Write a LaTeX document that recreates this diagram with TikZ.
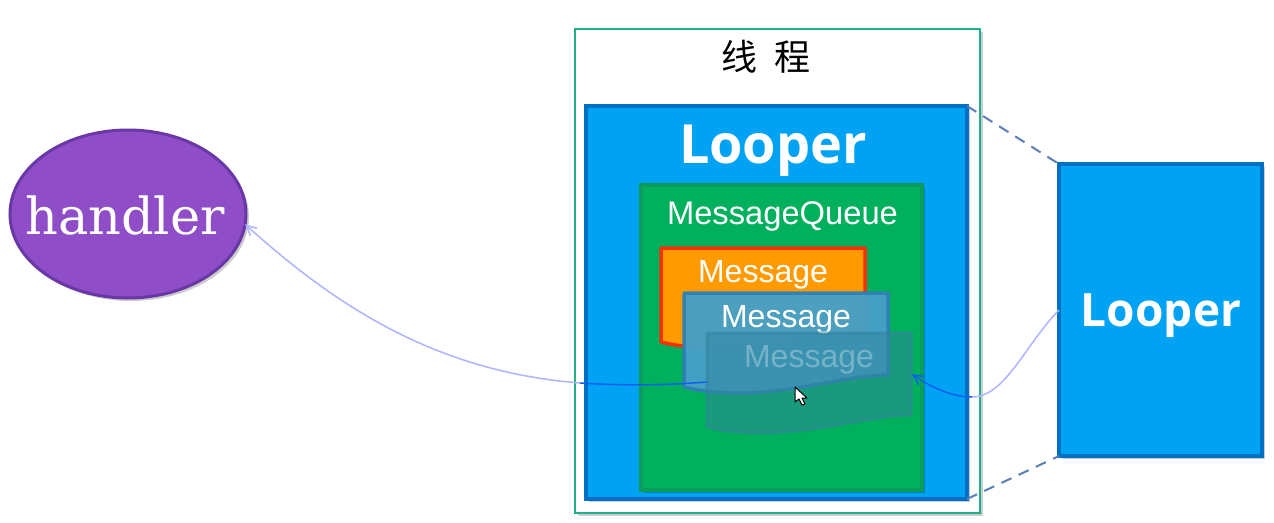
\documentclass[tikz,border=0pt]{standalone}
\usepackage{fontspec}
\setmainfont{Liberation Sans}
\newfontfamily\boldfont[BoldFont={Open Sans Bold}]{Open Sans}
\newfontfamily\serifish{DejaVu Serif}
\newfontfamily\cjk{Noto Sans CJK SC}
\usetikzlibrary{shapes.geometric,shadows,arrows.meta}
\definecolor{threadgreen}{HTML}{1FB08A}
\definecolor{loopblue}{HTML}{00A2F3}
\definecolor{loopedge}{HTML}{0070C4}
\definecolor{queuegreen}{HTML}{00B05C}
\definecolor{queueedge}{HTML}{0C9C5A}
\definecolor{handlerfill}{HTML}{8F4DC8}
\definecolor{handleredge}{HTML}{6A38A6}
\definecolor{msgorange}{HTML}{FF9A00}
\definecolor{msgred}{HTML}{F5300A}
\definecolor{msgblue}{HTML}{46A0C8}
\definecolor{msgblueedge}{HTML}{2F80B4}
\definecolor{msgteal}{HTML}{32869F}
\definecolor{linklight}{HTML}{AEB4FF}
\definecolor{linkdark}{HTML}{1060F0}
\definecolor{dashblue}{HTML}{5A7FB4}
\tikzset{
  softshadow/.style={drop shadow={shadow xshift=3pt,shadow yshift=-3pt,opacity=.2,fill=black}},
  box/.style={draw,rectangle,outer sep=0pt,inner sep=0pt},
  looperbox/.style={box,fill=loopblue,draw=loopedge,line width=4pt,softshadow},
  linkdashed/.style={draw=dashblue,line width=2pt,dash pattern=on 11pt off 8pt},
  label/.style={text=white,inner sep=0pt,anchor=center}
}
\begin{document}
\begin{tikzpicture}[x=1pt,y=-1pt]
    \useasboundingbox (0,0) rectangle (1274,522);
    \fill[white] (0,0) rectangle (1274,522);
    % thread frame and the looper inside it
    \node[box,fill=white,draw=threadgreen,line width=2pt,softshadow,minimum width=405pt,minimum height=484pt] (thread) at (777,270.5) {};
    \node[inner sep=0pt] (threadlabel) at (766,57) {\fontsize{36}{36}\cjk 线\hspace{0.45em}程};
    \node[looperbox,minimum width=381pt,minimum height=393pt] (looper) at (776.5,302.5) {};
    \node[label] (looperlabel) at (773,151) {\fontsize{54}{54}\boldfont\bfseries Looper};
    \node[box,fill=queuegreen,draw=queueedge,line width=3.5pt,softshadow,minimum width=281pt,minimum height=305pt] (queue) at (781.5,337.5) {};
    \node[label] (queuelabel) at (782.5,216) {\fontsize{32.7}{33}\selectfont MessageQueue};
    % stacked messages
    \foreach \name/\px/\py/\fillc/\edgec/\op/\wid/\txt in {
        one/661/248/msgorange/msgred/1/3.5/1,
        two/684/293/msgblue/msgblueedge/.96/3.5/1,
        three/707/333/msgteal/msgteal/.5/3.5/.3
    } {
        \begin{scope}[shift={(\px,\py)}]
            \draw[fill=\fillc,draw=\edgec,fill opacity=\op,draw opacity=\op,line width=\wid pt,line join=round]
                (0,0) -- (204,0) -- (204,82) .. controls (165,82) and (110,100) .. (56,100)
                .. controls (35,100) and (15,98) .. (0,94) -- cycle;
            \node[label,text opacity=\txt] (\name) at (102,26.5) {\fontsize{32}{32}\selectfont Message};
        \end{scope}
    }
    % right looper and handler
    \node[looperbox,minimum width=203pt,minimum height=292pt] (outerlooper) at (1160.5,310) {};
    \node[label] (outerlabel) at (1161,316) {\fontsize{46}{46}\boldfont\bfseries Looper};
    \node[draw=handleredge,fill=handlerfill,ellipse,line width=3pt,outer sep=0pt,inner sep=0pt,softshadow,minimum width=236pt,minimum height=168pt] (handler) at (128,214) {};
    \node[label] (handlerlabel) at (125,215) {\fontsize{51}{51}\serifish handler};
    % links
    \draw[linkdashed] (looper.north east) -- (outerlooper.north west);
    \draw[linkdashed] (looper.south east) -- (outerlooper.south west);
    \coordinate (msgstart) at (707,382);
    \coordinate (framein) at (580,383);
    \coordinate (arrowtip) at (912,374);
    \coordinate (frameout) at (972,397);
    \draw[linkdark,line width=1.5pt] (msgstart) .. controls (670,385) and (625,386) .. (framein);
    \draw[linklight,line width=1.5pt,-{Straight Barb[length=10pt,width=10pt]}] (framein) .. controls (440,372) and (340,310) .. (handler.-5);
    \draw[linkdark,line width=1.5pt,-{Straight Barb[length=10pt,width=10pt]}] (frameout) .. controls (955,397) and (935,390) .. (arrowtip);
    \draw[linklight,line width=1.5pt] (outerlooper.west) .. controls (1025,345) and (1005,397) .. (frameout);
    % mouse pointer
    \draw[fill=white,draw=black,line width=1pt,line join=round] (795,387) -- (795,402) -- (799,399) -- (802,405) -- (805,404) -- (802,398) -- (807,398) -- cycle;
\end{tikzpicture}
\end{document}
